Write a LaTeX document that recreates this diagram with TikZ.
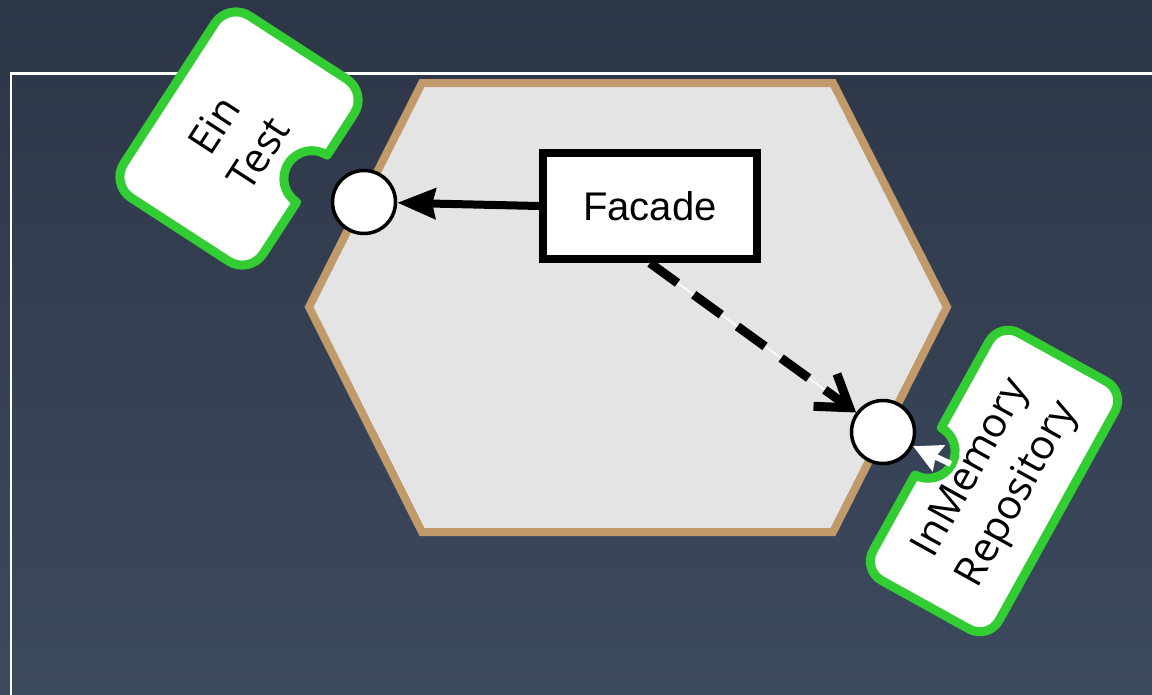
\documentclass[tikz,border=0pt]{standalone}
\usepackage{fontspec}
\newfontfamily\piecefont{Open Sans}
\newfontfamily\boxfont{Liberation Sans}
\usetikzlibrary{arrows.meta}

\definecolor{bgtop}{RGB}{45,54,71}
\definecolor{bgbottom}{RGB}{60,74,94}
\definecolor{hexfill}{RGB}{228,228,228}
\definecolor{hexline}{RGB}{192,154,107}
\definecolor{piecegreen}{RGB}{50,205,50}

\tikzset{
  hexagon/.style={draw=hexline, fill=hexfill, line width=8pt, line join=miter},
  piece/.style={draw=piecegreen, fill=white, line width=9pt, line join=round},
  piecetext/.style={font=\piecefont\fontsize{41}{53}\selectfont, align=center, text=black, transform shape},
  classbox/.style={draw=black, fill=white, line width=8pt, minimum width=214pt, minimum height=106pt,
                   font=\boxfont\fontsize{40}{48}\selectfont},
  port/.style={circle, draw=black, fill=white, line width=3.5pt, minimum size=63pt, inner sep=0pt},
  callarrow/.style={draw=black, line width=8pt, -{Stealth[length=38pt, width=30pt, inset=3pt]}},
  usesarrow/.style={draw=black, line width=9pt, dash pattern=on 34pt off 20pt,
                    -{Straight Barb[length=30pt, width=40pt]}},
  implarrow/.style={draw=white, line width=6pt, -{Stealth[length=28pt, width=28pt, inset=3pt]}},
  guideline/.style={draw=white, line width=1.5pt}
}

% rounded puzzle piece with a notch on the lower edge (local frame)
\newcommand{\piecelow}[5]{% W H r notch-x notch-r
  \path[piece] (-#1/2+#3,-#2/2) -- (#4-#5,-#2/2) arc (180:0:#5) -- (#1/2-#3,-#2/2)
    arc (-90:0:#3) -- (#1/2,#2/2-#3) arc (0:90:#3) -- (-#1/2+#3,#2/2)
    arc (90:180:#3) -- (-#1/2,-#2/2+#3) arc (180:270:#3) -- cycle;}
% same piece with the notch on the upper edge
\newcommand{\piecehigh}[5]{%
  \path[piece] (-#1/2+#3,-#2/2) -- (#1/2-#3,-#2/2)
    arc (-90:0:#3) -- (#1/2,#2/2-#3) arc (0:90:#3) -- (#4+#5,#2/2) arc (0:-180:#5)
    -- (-#1/2+#3,#2/2) arc (90:180:#3) -- (-#1/2,-#2/2+#3) arc (180:270:#3) -- cycle;}

\begin{document}
\begin{tikzpicture}[x=1pt, y=1pt]
\useasboundingbox (0,0) rectangle (1152,-694);
\clip (0,0) rectangle (1152,-694);

% background and frame
\shade[top color=bgtop, bottom color=bgbottom] (0,0) rectangle (1152,-694);
\draw[white, line width=2.5pt] (11,-720) -- (11,-73.5) -- (1180,-73.5);

% application core
\draw[hexagon] (422,-83) -- (833,-83) -- (947,-307) -- (833,-532) -- (422,-532) -- (309,-307) -- cycle;

% test adapter
\begin{scope}[shift={(239,-138.5)}, rotate=57]
  \piecelow{217}{166}{25}{6}{28}
  \node[piecetext] (eintest) at (-2,2) {Ein\\Test};
\end{scope}

% repository adapter
\begin{scope}[shift={(994,-481)}, rotate=61]
  \piecehigh{283}{144}{22}{-6}{27}
  \node[piecetext] (repo) at (0,-2) {InMemory\\Repository};
  \coordinate (repotail) at (-6,46);
\end{scope}

% ports and facade
\node[port] (p1) at (364,-202) {};
\node[port] (p2) at (883,-432) {};
\node[classbox] (facade) at (650,-206) {Facade};

% connectors
\path[callarrow] (facade.west) -- (p1);
\path[guideline, shorten >=24pt] (facade.south) -- (p2);
\path[usesarrow] (facade.south) -- (p2);
\path[implarrow] (repotail) -- (p2);
\end{tikzpicture}
\end{document}
